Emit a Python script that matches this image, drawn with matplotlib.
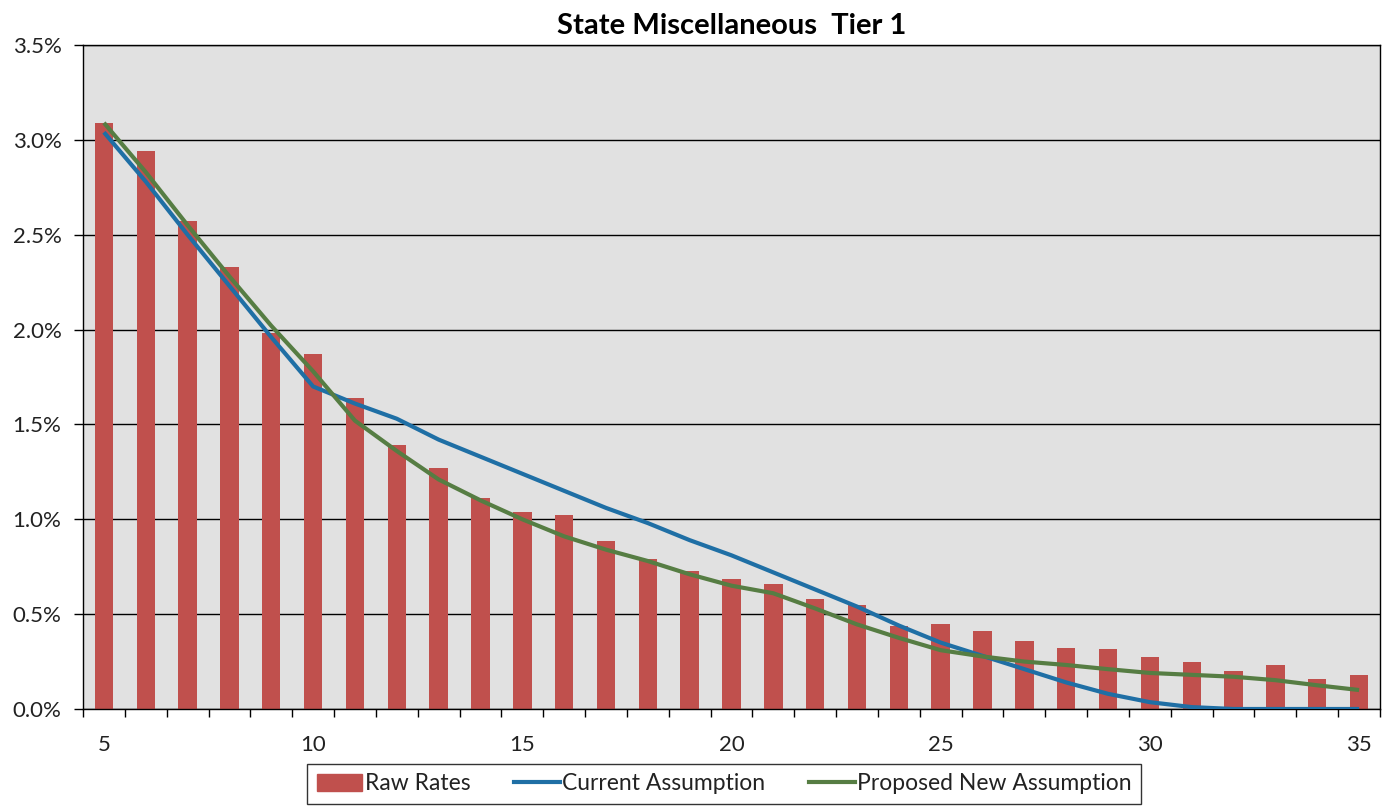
import matplotlib.pyplot as plt
import numpy as np
from matplotlib.ticker import FuncFormatter, MultipleLocator
from matplotlib.patches import Patch
from matplotlib.lines import Line2D

# 数据 (percent)
years = list(range(5, 36))
raw_rates = [3.09, 2.94, 2.57, 2.33, 1.98, 1.87, 1.64, 1.39, 1.27, 1.11,
             1.04, 1.02, 0.885, 0.79, 0.725, 0.685, 0.66, 0.58, 0.55, 0.44,
             0.45, 0.41, 0.357, 0.323, 0.316, 0.273, 0.248, 0.198, 0.232, 0.157,
             0.18]
current = [3.04, 2.78, 2.50, 2.23, 1.96, 1.70, 1.61, 1.53, 1.42, 1.33,
           1.24, 1.15, 1.06, 0.98, 0.89, 0.81, 0.72, 0.63, 0.54, 0.44,
           0.35, 0.28, 0.21, 0.14, 0.08, 0.036, 0.01, 0.0, 0.0, 0.0,
           0.0]
proposed = [3.09, 2.83, 2.55, 2.28, 2.02, 1.78, 1.52, 1.36, 1.21, 1.10,
            1.00, 0.91, 0.84, 0.78, 0.71, 0.65, 0.61, 0.53, 0.446, 0.375,
            0.31, 0.277, 0.25, 0.232, 0.21, 0.19, 0.18, 0.17, 0.152, 0.125,
            0.10]

bar_color = '#C0504D'
blue = '#1F6FA5'
green = '#567D43'

plt.rcParams['font.family'] = ['Lato', 'DejaVu Sans']
plt.rcParams['text.color'] = '#222222'

fig = plt.figure(figsize=(13.89, 8.10), dpi=100)
ax = fig.add_axes([83 / 1389, 1 - 709 / 810, (1380 - 83) / 1389, (709 - 45) / 810])
ax.set_facecolor('#E1E1E1')

ax.bar(years, raw_rates, width=0.44, color=bar_color, zorder=2)
ax.plot(years, current, color=blue, lw=3, zorder=3, solid_capstyle='butt')
ax.plot(years, proposed, color=green, lw=3, zorder=4, solid_capstyle='butt')

ax.set_xlim(4.5, 35.5)
ax.set_ylim(0, 3.5)
ax.yaxis.set_major_locator(MultipleLocator(0.5))
ax.yaxis.set_major_formatter(FuncFormatter(lambda v, p: f'{v:.1f}%'))
ax.grid(axis='y', color='black', lw=1, zorder=1)

ax.set_xticks([5, 10, 15, 20, 25, 30, 35])
ax.set_xticks(np.arange(4.5, 35.6, 1), minor=True)
ax.tick_params(axis='x', which='major', length=0, pad=19, labelsize=16, labelcolor='#222222')
ax.tick_params(axis='x', which='minor', length=6, width=1, direction='out')
ax.tick_params(axis='y', length=6.5, width=1, labelsize=16, pad=9, labelcolor='#222222')

for s in ax.spines.values():
    s.set_color('black')
    s.set_linewidth(1)

ax.set_title('State Miscellaneous  Tier 1', fontsize=21, fontweight='bold', pad=8, color='black')

handles = [Patch(color=bar_color, label='Raw Rates'),
           Line2D([], [], color=blue, lw=3, label='Current Assumption'),
           Line2D([], [], color=green, lw=3, label='Proposed New Assumption')]
leg = fig.legend(handles=handles, loc='center', bbox_to_anchor=(724 / 1389, 1 - 784 / 810),
                 ncol=3, frameon=True, fancybox=False, fontsize=16.5, handlelength=2.0,
                 handletextpad=0.1, columnspacing=1.9, borderpad=0.4, borderaxespad=0)
leg.get_frame().set_edgecolor('black')
leg.get_frame().set_linewidth(1)

fig.savefig('out.png', dpi=100)
